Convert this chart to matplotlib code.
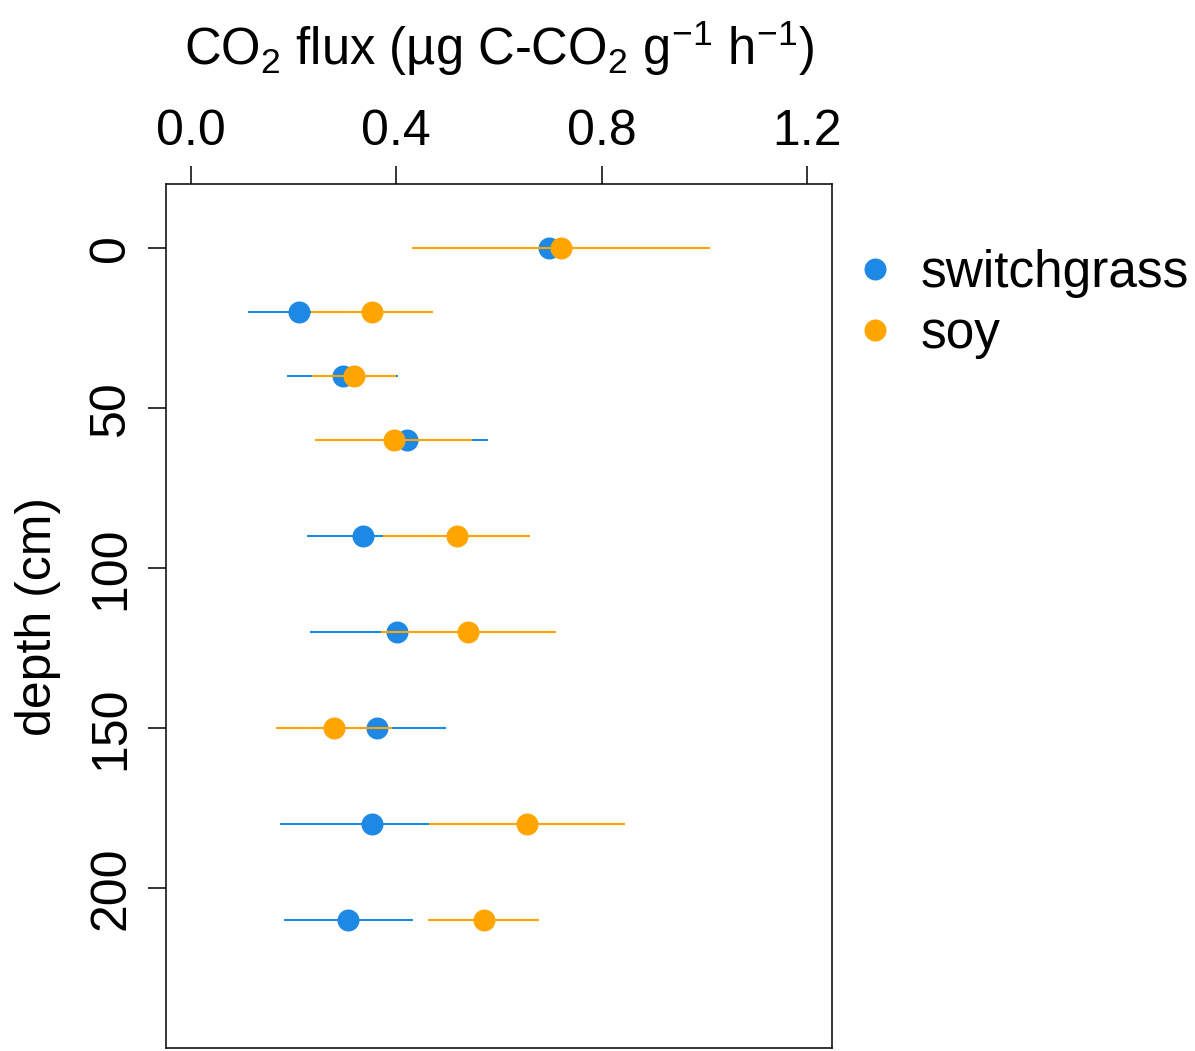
import matplotlib
matplotlib.use('Agg')
import matplotlib.pyplot as plt

# ---- data ----
depth = [0, 20, 40, 60, 90, 120, 150, 180, 210]
switchgrass_mean = [0.697, 0.211, 0.296, 0.421, 0.335, 0.401, 0.362, 0.352, 0.307]
switchgrass_se = [0.200, 0.100, 0.108, 0.158, 0.108, 0.169, 0.135, 0.179, 0.125]
soy_mean = [0.720, 0.353, 0.318, 0.395, 0.518, 0.540, 0.279, 0.655, 0.570]
soy_se = [0.290, 0.118, 0.082, 0.153, 0.143, 0.170, 0.112, 0.191, 0.108]
series_names = ['switchgrass', 'soy']
x_ticks = [0.0, 0.4, 0.8, 1.2]
x_tick_labels = ['0.0', '0.4', '0.8', '1.2']
y_ticks = [0, 50, 100, 150, 200]
y_tick_labels = ['0', '50', '100', '150', '200']

BLUE = '#1E88E5'
ORANGE = '#FFA500'

plt.rcParams['font.family'] = ['Liberation Sans', 'DejaVu Sans']
plt.rcParams['mathtext.fontset'] = 'custom'
plt.rcParams['mathtext.rm'] = 'Liberation Sans'
plt.rcParams['mathtext.it'] = 'Liberation Sans:italic'
plt.rcParams['mathtext.bf'] = 'Liberation Sans:bold'

DPI = 100
fig = plt.figure(figsize=(11.95, 10.51), dpi=DPI)
L, R, T, B = 166, 832, 184, 1048
W, H = 1195, 1051
ax = fig.add_axes([L / W, 1 - B / H, (R - L) / W, (B - T) / H])

FS = 36
ms = 22 * 72 / DPI
lw = 1.5

def lo(m, e):
    return [a - b for a, b in zip(m, e)]

def hi(m, e):
    return [a + b for a, b in zip(m, e)]

ax.hlines(depth, lo(switchgrass_mean, switchgrass_se), hi(switchgrass_mean, switchgrass_se),
          color=BLUE, lw=lw, zorder=2)
ax.plot(switchgrass_mean, depth, 'o', color=BLUE, ms=ms, mew=0, zorder=3, label=series_names[0])
ax.hlines(depth, lo(soy_mean, soy_se), hi(soy_mean, soy_se),
          color=ORANGE, lw=lw, zorder=4)
ax.plot(soy_mean, depth, 'o', color=ORANGE, ms=ms, mew=0, zorder=5, label=series_names[1])

ax.set_xlim(-0.048, 1.248)
ax.set_ylim(250, -20)

ax.xaxis.tick_top()
ax.set_xticks(x_ticks)
ax.set_xticklabels(x_tick_labels)
ax.set_yticks(y_ticks)
ax.set_yticklabels(y_tick_labels, rotation=90, va='center')
ax.tick_params(axis='both', length=18 * 72 / DPI, width=1.1, labelsize=FS, color='black')
ax.tick_params(axis='x', pad=8)
ax.tick_params(axis='y', pad=10)
for s in ax.spines.values():
    s.set_linewidth(1.1)

fig.text((L + R) / 2 / W, 1 - 65 / H,
         r'CO$_2$ flux (µg C-CO$_2$ g$^{-1}$ h$^{-1}$)',
         ha='center', va='baseline', fontsize=FS + 0.5)
fig.text(38 / W, 1 - 616 / H, 'depth (cm)', rotation=90, ha='center', va='center', fontsize=FS)

leg = ax.legend(loc='upper left', bbox_to_anchor=(860 / W, 1 - 249 / H),
                bbox_transform=fig.transFigure, frameon=False, fontsize=37,
                handlelength=0.6, handletextpad=0.575, labelspacing=0.23,
                borderaxespad=0, borderpad=0, markerscale=1.0)

fig.savefig('out.png', dpi=DPI)
